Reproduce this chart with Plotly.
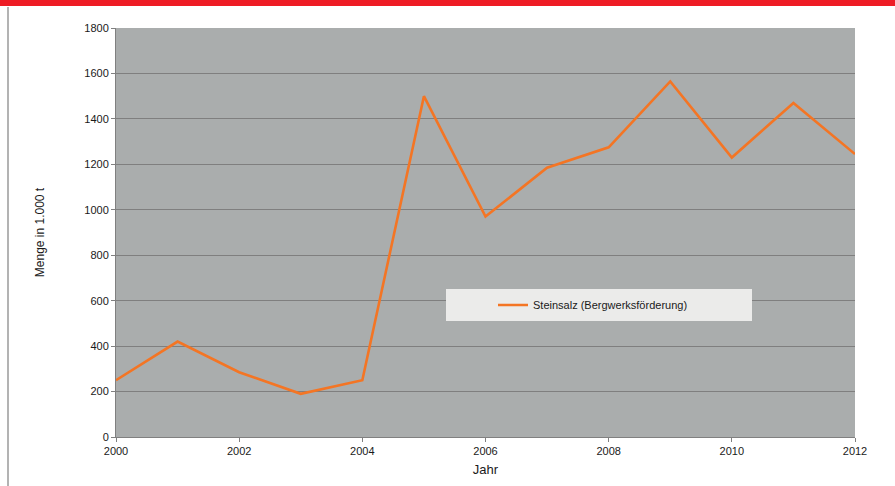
import plotly.graph_objects as go

years = [2000, 2001, 2002, 2003, 2004, 2005, 2006, 2007, 2008, 2009, 2010, 2011, 2012]
steinsalz = [250, 420, 285, 190, 250, 1500, 970, 1185, 1275, 1565, 1230, 1470, 1245]
series_name = "Steinsalz (Bergwerksförderung)"
x_ticks = [2000, 2002, 2004, 2006, 2008, 2010, 2012]
y_ticks = [0, 200, 400, 600, 800, 1000, 1200, 1400, 1600, 1800]

W, H = 895, 486
L, R, T, B = 116, 40, 28, 49
pw, ph = W - L - R, H - T - B

def px(x):
    return (x - L) / pw

def py(y):
    return (H - B - y) / ph

fig = go.Figure()
fig.add_trace(go.Scatter(
    x=years, y=steinsalz, mode="lines", name=series_name,
    line=dict(color="#f47524", width=2.6), showlegend=True,
))

font = "Liberation Sans, Arial, sans-serif"
fig.update_layout(
    width=W, height=H,
    margin=dict(l=L, r=R, t=T, b=B),
    paper_bgcolor="white", plot_bgcolor="#aaadad",
    font=dict(family=font, color="#1a1a1a", size=11),
    xaxis=dict(range=[2000, 2012], tickvals=x_ticks, showgrid=False, zeroline=False,
               showline=True, linecolor="#808080", linewidth=1,
               ticks="outside", ticklen=4, tickcolor="#808080",
               tickfont=dict(size=11, color="#1a1a1a"),
               title=dict(text="Jahr", font=dict(size=13, color="#1a1a1a"), standoff=8)),
    yaxis=dict(range=[0, 1800], tickvals=y_ticks, showgrid=True, gridcolor="#7f7f7f", gridwidth=1,
               zeroline=False, showline=True, linecolor="#808080", linewidth=1,
               ticks="outside", ticklen=4, tickcolor="#808080",
               tickfont=dict(size=11, color="#1a1a1a"),
               title=dict(text="Menge in 1.000 t", font=dict(size=12, color="#1a1a1a"), standoff=37)),
    legend=dict(x=px(493), y=py(305), xanchor="left", yanchor="middle",
                bgcolor="rgba(0,0,0,0)", font=dict(size=11, color="#1a1a1a")),
    shapes=[
        dict(type="rect", xref="paper", yref="paper", x0=px(0), x1=px(W), y0=py(0), y1=py(6),
             fillcolor="#ee1c25", line=dict(width=0), layer="above"),
        dict(type="line", xref="paper", yref="paper", x0=px(8), x1=px(8), y0=py(7), y1=py(H),
             line=dict(color="#9a9a9a", width=1.5)),
        dict(type="rect", xref="paper", yref="paper", x0=px(446), x1=px(752), y0=py(289), y1=py(321),
             fillcolor="#ebebea", line=dict(width=0), layer="above"),
    ],
)
fig.write_html("out.html", config={"displayModeBar": False},
               post_script="document.body.style.margin='0px';document.body.style.overflow='hidden';")
